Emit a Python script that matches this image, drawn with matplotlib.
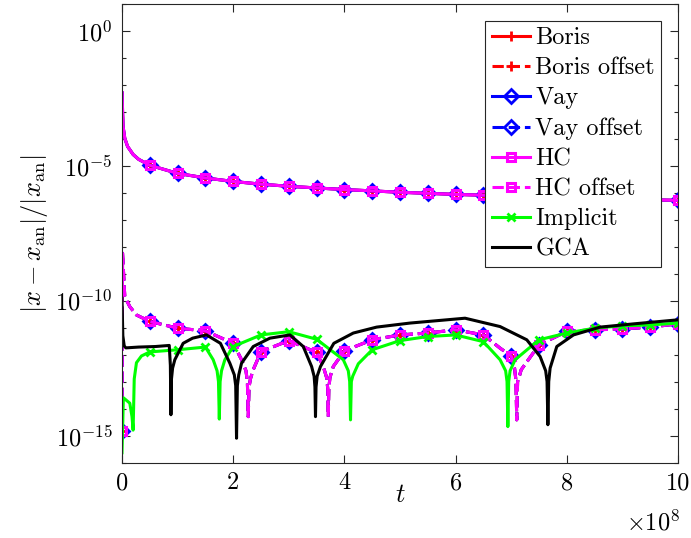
import numpy as np
import matplotlib
matplotlib.use("Agg")
import matplotlib.pyplot as plt

plt.rcParams['font.family'] = 'serif'
plt.rcParams['font.serif'] = ['cmr10']
plt.rcParams['mathtext.fontset'] = 'cm'
plt.rcParams['axes.formatter.use_mathtext'] = True
plt.rcParams['axes.unicode_minus'] = False

# time in units of 1e8, errors stored as log10 values
t_main = [0.004, 0.01, 0.02, 0.05, 0.1, 0.2, 0.3, 0.5, 1.0, 1.5, 2.0, 2.5, 3.0, 3.5, 4.0,
          4.5, 5.0, 5.5, 6.0, 6.5, 7.0, 7.5, 8.0, 8.5, 9.0, 9.5, 10.0]
lg_main = [-2.3, -3.0, -3.55, -3.98, -4.28, -4.58, -4.76, -4.98, -5.28, -5.45, -5.58, -5.68,
           -5.76, -5.82, -5.88, -5.93, -5.98, -6.02, -6.06, -6.09, -6.13, -6.16, -6.18, -6.21,
           -6.23, -6.26, -6.28]

t_off = [0.0, 0.01, 0.05, 0.14, 0.26, 0.5, 1.0, 1.5, 2.0, 2.15, 2.23, 2.255, 2.27, 2.285,
         2.31, 2.36, 2.5, 3.0, 3.5, 3.62, 3.68, 3.7, 3.71, 3.72, 3.74, 3.8, 4.0, 4.5, 5.0,
         5.5, 6.0, 6.5, 6.8, 7.0, 7.06, 7.085, 7.1, 7.115, 7.14, 7.18, 7.5, 8.0, 8.5, 9.0,
         9.5, 10.0]
lg_off = [-14.85, -8.24, -9.85, -10.22, -10.53, -10.77, -11.02, -11.12, -11.58, -12.19,
          -12.6, -13.0, -14.3, -13.2, -12.9, -12.56, -11.89, -11.48, -11.92, -12.44, -12.85,
          -13.25, -14.3, -13.25, -12.85, -12.44, -11.86, -11.45, -11.27, -11.2, -11.08,
          -11.27, -11.76, -12.05, -12.5, -12.95, -14.42, -13.0, -12.85, -12.56, -11.64,
          -11.14, -11.08, -11.05, -10.98, -10.86]

t_imp = [0.0, 0.025, 0.14, 0.18, 0.2, 0.22, 0.26, 0.35, 0.5, 1.0, 1.5, 1.64, 1.71, 1.735,
         1.75, 1.765, 1.79, 1.85, 2.0, 2.5, 3.0, 3.5, 3.98, 4.07, 4.095, 4.11, 4.125, 4.15,
         4.25, 4.5, 5.0, 5.5, 6.0, 6.5, 6.8, 6.9, 6.925, 6.94, 6.955, 6.98, 7.07, 7.5, 8.0,
         8.5, 9.0, 9.5, 10.0]
lg_imp = [-15.64, -13.6, -13.8, -14.3, -14.8, -12.9, -12.3, -12.05, -11.9, -11.82, -11.72,
          -12.19, -12.6, -13.0, -14.39, -13.0, -12.6, -12.19, -11.7, -11.27, -11.15, -11.43,
          -12.19, -12.6, -13.0, -14.42, -13.0, -12.8, -12.34, -11.82, -11.48, -11.33, -11.27,
          -11.52, -12.19, -12.6, -13.0, -14.67, -13.0, -12.6, -12.19, -11.45, -11.2, -11.02,
          -10.93, -10.9, -10.83]

t_gca = [0.0, 0.015, 0.04, 0.07, 0.3, 0.6, 0.85, 0.87, 0.88, 0.89, 0.91, 0.95, 1.1, 1.27,
         1.52, 1.77, 1.94, 2.02, 2.045, 2.06, 2.075, 2.1, 2.15, 2.36, 2.66, 3.02, 3.26, 3.41,
         3.455, 3.47, 3.48, 3.49, 3.51, 3.57, 3.81, 4.16, 4.58, 5.18, 6.17, 6.8, 7.28, 7.52,
         7.62, 7.645, 7.66, 7.675, 7.7, 7.82, 8.12, 8.6, 9.2, 10.0]
lg_gca = [-9.91, -11.3, -11.68, -11.75, -11.72, -11.7, -11.66, -12.4, -14.23, -12.9, -12.5,
          -12.19, -11.58, -11.39, -11.27, -11.58, -12.32, -12.75, -13.15, -15.1, -13.15,
          -12.75, -12.32, -11.7, -11.39, -11.27, -11.7, -12.44, -12.8, -13.2, -14.3, -13.2,
          -12.8, -12.44, -11.58, -11.2, -10.98, -10.83, -10.65, -10.96, -11.45, -12.07, -12.6,
          -13.0, -14.6, -13.0, -12.5, -11.7, -11.27, -10.98, -10.86, -10.71]


def marks(t):
    t = np.asarray(t)
    return [i for i in range(len(t)) if np.isclose(t[i] * 2, round(t[i] * 2))]


def imarks(t):
    return [i for i in marks(t) if t[i] > 0]


fig = plt.figure(figsize=(6.91, 5.38), dpi=100)
ax = fig.add_axes([122 / 691, 1 - 462.5 / 538, 556 / 691, 458.5 / 538])

lw = 2.2
mag = '#ff00ff'
e_main = 10.0 ** np.array(lg_main)
e_off = 10.0 ** np.array(lg_off)

ax.plot(t_main, e_main, color='r', lw=lw, marker='+', ms=7, mew=2,
        markevery=marks(t_main), label='Boris')
ax.plot(t_off, e_off, color='r', lw=lw, ls='--', marker='+', ms=7, mew=2,
        markevery=marks(t_off), label='Boris offset')
ax.plot(t_main, e_main, color='b', lw=lw, marker='D', ms=7.5, mew=2, mfc='none',
        markevery=marks(t_main), label='Vay')
ax.plot(t_off, e_off, color='b', lw=lw, ls='--', marker='D', ms=7.5, mew=2, mfc='none',
        markevery=marks(t_off), label='Vay offset')
ax.plot(t_main, e_main, color=mag, lw=lw, marker='s', ms=6, mew=2.2, mfc='none',
        markevery=marks(t_main), label='HC')
ax.plot(t_off, e_off, color=mag, lw=lw, ls='--', marker='s', ms=6, mew=2.2, mfc='none',
        markevery=marks(t_off), label='HC offset')
ax.plot(t_imp, 10.0 ** np.array(lg_imp), color='#00ff00', lw=lw, marker='x', ms=6, mew=2,
        markevery=imarks(t_imp), label='Implicit')
ax.plot(t_gca, 10.0 ** np.array(lg_gca), color='k', lw=lw, label='GCA')

ax.set_yscale('log')
ax.set_xlim(0, 10)
ax.set_ylim(1e-16, 1e1)
ax.set_xticks([0, 2, 4, 6, 8, 10])
ax.set_xticklabels(['0', '2', '4', '6', '8', '10'])
ax.set_yticks([1e-15, 1e-10, 1e-5, 1e0])
ax.set_yticklabels([r'$10^{-15}$', r'$10^{-10}$', r'$10^{-5}$', r'$10^{0}$'])
ax.set_yticks([10.0 ** k for k in range(-16, 2)], minor=True)
ax.yaxis.set_minor_formatter(matplotlib.ticker.NullFormatter())

for s in ax.spines.values():
    s.set_color('0.15')
    s.set_linewidth(0.8)
ax.tick_params(which='both', direction='in', top=True, right=True, colors='0.15',
               labelcolor='k', labelsize=17.5, width=0.8)
ax.tick_params(which='major', length=6, pad=7)
ax.tick_params(which='minor', length=3)

ax.set_xlabel(r'$t$', fontsize=19, labelpad=-8)
ax.set_ylabel(r'$|x-x_{\rm an}|/|x_{\rm an}|$', fontsize=19, labelpad=4)
fig.text(680 / 691, 1 - 530 / 538, r'$\times 10^{8}$', fontsize=17.5, ha='right', va='baseline')

leg = ax.legend(loc='upper right', bbox_to_anchor=(661 / 691, 1 - 21 / 538),
                bbox_transform=fig.transFigure, fontsize=17.5, handlelength=1.6,
                handletextpad=0.2, labelspacing=0.33, borderpad=0.25, borderaxespad=0,
                fancybox=False, framealpha=1, edgecolor='0.15')
leg.get_frame().set_linewidth(0.8)

fig.savefig('out.png', dpi=100)
